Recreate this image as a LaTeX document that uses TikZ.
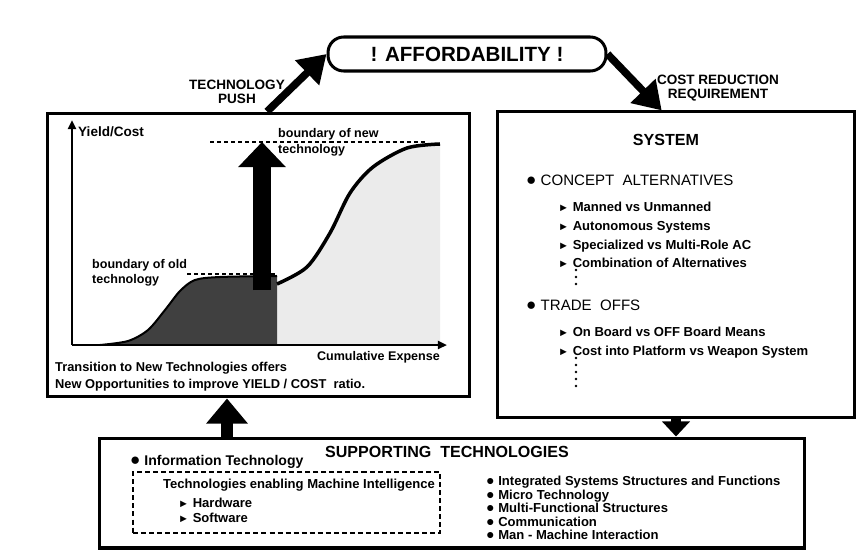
\documentclass[tikz,border=0pt]{standalone}
\usepackage{fontspec}
\setmainfont{Liberation Sans}
\usetikzlibrary{arrows.meta, positioning}

\newcommand{\bulletmark}{{\fontsize{17}{17}\selectfont ●}\ }
\newcommand{\listmark}{{\fontsize{14}{13}\selectfont ●}\ }
\newcommand{\pointmark}{{\fontsize{11}{11}\selectfont ►}\ }

\begin{document}
\begin{tikzpicture}[
    x=0.035cm, y=-0.035cm,
    panel/.style={rectangle, draw, line width=3pt, inner sep=0pt},
    pill/.style={rectangle, draw, line width=3pt, rounded corners=0.55cm, minimum width=9.73cm, minimum height=1.19cm, font=\fontsize{20.5}{22}\selectfont\bfseries},
    dashbox/.style={rectangle, draw, line width=1.5pt, dash pattern=on 5pt off 3pt, inner sep=0pt},
    title/.style={font=\fontsize{16}{18}\selectfont\bfseries, inner sep=0pt},
    label/.style={font=\fontsize{13.5}{13.5}\selectfont\bfseries, align=center, inner sep=0pt},
    txt/.style={font=\fontsize{12.5}{15.5}\selectfont\bfseries, anchor=west, align=left, inner sep=0pt},
    head/.style={font=\fontsize{15}{16}\selectfont, anchor=west, inner sep=0pt},
    item/.style={font=\fontsize{13}{18.7}\selectfont\bfseries, anchor=west, align=left, inner sep=0pt},
    feed/.style={line width=7.5pt, -{Triangle[length=27pt, width=33pt]}},
    block/.style={line width=12pt, -{Triangle[length=25pt, width=40pt]}},
    leap/.style={line width=17pt, -{Triangle[length=25pt, width=46pt]}},
    axis/.style={line width=2.5pt, -{Triangle[length=9pt, width=8pt]}},
    boundary/.style={line width=1.3pt, dash pattern=on 4pt off 3pt}
]
    \useasboundingbox (0,0) rectangle (864,555);

    \node[pill] (afford) at (467,54) {! AFFORDABILITY !};
    \node[panel, minimum width=14.8cm, minimum height=9.94cm] (yieldbox) at (258.5,255) {};
    \node[panel, minimum width=12.53cm, minimum height=10.68cm] (sysbox) at (676,264.5) {};
    \node[panel, minimum width=24.71cm, minimum height=3.85cm] (suppbox) at (452,493) {};

    \node[label] (push) at (237,92) {TECHNOLOGY\\PUSH};
    \node[label] (costred) at (718,88) {COST REDUCTION\\REQUIREMENT};

    \draw[feed] ([xshift=0.3cm]yieldbox.north) -- (afford.west);
    \draw[feed] (afford.east) -- ([xshift=-0.5cm]sysbox.north);

    \coordinate (upx) at (227,0);
    \draw[block] (suppbox.north -| upx) -- (yieldbox.south -| upx);
    \draw[line width=10pt, -{Triangle[length=15pt, width=27pt]}] (sysbox.south) -- (suppbox.north -| sysbox.south);

    % yield / cost chart
    \fill[black!8] (277,345) -- plot[smooth] coordinates {(277,284) (307,267) (330,233) (350,193) (373,167) (407,148) (440,144)} -- (440,345) -- cycle;
    \fill[black!75] plot[smooth] coordinates {(100,345) (128,341) (148,330) (165,310) (180,291) (195,280) (220,277) (277,276)} -- (277,345) -- cycle;
    \draw[line width=2pt] plot[smooth] coordinates {(100,345) (128,341) (148,330) (165,310) (180,291) (195,280) (220,277) (277,276)};
    \draw[line width=3.5pt] plot[smooth] coordinates {(277,284) (307,267) (330,233) (350,193) (373,167) (407,148) (440,144)};
    \draw[boundary] (187,274) -- (277,274);
    \draw[boundary] (210,142) -- (427,142);
    \draw[leap] (262,290) -- (262,142);
    \draw[axis] (72,345) -- (72,120);
    \draw[axis] (72,345) -- (447,345);

    \node[txt, font=\fontsize{13.5}{15}\selectfont\bfseries] (ylab) at (78,132) {Yield/Cost};
    \node[txt] (newlab) at (278,142.5) {boundary of new\\technology};
    \node[txt] (oldlab) at (92,273) {boundary of old\\technology};
    \node[txt, anchor=east] (xlab) at (440,357) {Cumulative Expense};
    \node[txt, font=\fontsize{12.8}{17}\selectfont\bfseries] (note) at (55,376.5) {Transition to New Technologies offers\\New Opportunities to improve YIELD / COST~ ratio.};

    % system alternatives
    \node[title] (systitle) at (666,140) {SYSTEM};
    \node[head] (concept) at (526,180) {\bulletmark CONCEPT~ ALTERNATIVES};
    \node[item] (conceptlist) at (558,235) {\pointmark Manned vs Unmanned\\\pointmark Autonomous Systems\\\pointmark Specialized vs Multi-Role AC\\\pointmark Combination of Alternatives};
    \fill (576,270) circle[radius=1.4pt] (576,277) circle[radius=1.4pt] (576,284) circle[radius=1.4pt];
    \node[head] (trade) at (526,305) {\bulletmark TRADE~ OFFS};
    \node[item] (tradelist) at (558,342.5) {\pointmark On Board vs OFF Board Means\\\pointmark Cost into Platform vs Weapon System};
    \fill (576,358) circle[radius=1.4pt] (576,365) circle[radius=1.4pt] (576,372) circle[radius=1.4pt] (576,379) circle[radius=1.4pt] (576,386) circle[radius=1.4pt];

    % supporting technologies
    \node[title] (supptitle) at (447,452) {SUPPORTING~ TECHNOLOGIES};
    \node[item, font=\fontsize{14}{15}\selectfont\bfseries] (infotech) at (130,462) {\bulletmark Information Technology};
    \node[dashbox, minimum width=10.75cm, minimum height=2.14cm] (mibox) at (286.5,502.5) {};
    \node[txt, font=\fontsize{13}{15}\selectfont\bfseries] (mi) at (163,485) {Technologies enabling Machine Intelligence};
    \node[txt, font=\fontsize{13}{15}\selectfont\bfseries] (hw) at (178,503) {\pointmark Hardware};
    \node[txt, font=\fontsize{13}{15}\selectfont\bfseries] (sw) at (178,518) {\pointmark Software};
    \node[txt, font=\fontsize{13}{13.5}\selectfont\bfseries] (techlist) at (486,508) {\listmark Integrated Systems Structures and Functions\\\listmark Micro Technology\\\listmark Multi-Functional Structures\\\listmark Communication\\\listmark Man - Machine Interaction};
\end{tikzpicture}
\end{document}
